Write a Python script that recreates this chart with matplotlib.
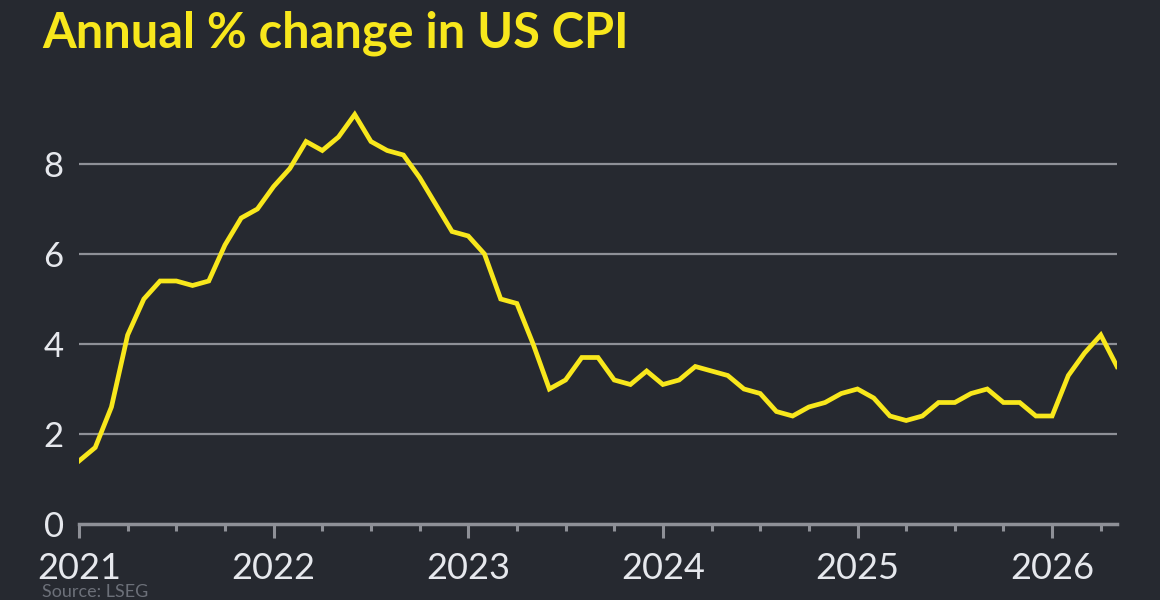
import numpy as np
import matplotlib
matplotlib.use("Agg")
import matplotlib.pyplot as plt

# Annual % change in US CPI, monthly Jan 2021 .. May 2026
cpi_2021 = [1.4, 1.7, 2.6, 4.2, 5.0, 5.4, 5.4, 5.3, 5.4, 6.2, 6.8, 7.0]
cpi_2022 = [7.5, 7.9, 8.5, 8.3, 8.6, 9.1, 8.5, 8.3, 8.2, 7.7, 7.1, 6.5]
cpi_2023 = [6.4, 6.0, 5.0, 4.9, 4.0, 3.0, 3.2, 3.7, 3.7, 3.2, 3.1, 3.4]
cpi_2024 = [3.1, 3.2, 3.5, 3.4, 3.3, 3.0, 2.9, 2.5, 2.4, 2.6, 2.7, 2.9]
cpi_2025 = [3.0, 2.8, 2.4, 2.3, 2.4, 2.7, 2.7, 2.9, 3.0, 2.7, 2.7, 2.4]
cpi_2026 = [2.4, 3.3, 3.8, 4.2, 3.5]

cpi = cpi_2021 + cpi_2022 + cpi_2023 + cpi_2024 + cpi_2025 + cpi_2026
months = np.arange(len(cpi))          # 0 = Jan 2021

year_labels = ["2021", "2022", "2023", "2024", "2025", "2026"]
y_ticks = [0, 2, 4, 6, 8]

BG = "#262930"
YELLOW = "#f8e71c"
GRID = "#8e9097"
TEXT = "#e6e8ed"

plt.rcParams['font.family'] = ['Lato', 'DejaVu Sans']

fig = plt.figure(figsize=(11.6, 6.0), dpi=100, facecolor=BG)
ax = fig.add_axes([79/1160, 1-524/600, (1117-79)/1160, 423/600])
ax.set_facecolor(BG)

ax.plot(months, cpi, color=YELLOW, lw=3.4, solid_joinstyle="miter", zorder=3)

ax.set_xlim(0, len(cpi) - 1)
ax.set_ylim(0, 9.4)

# gridlines (not at zero, the axis line takes that place)
for v in y_ticks[1:]:
    ax.axhline(v, color=GRID, lw=1.6, zorder=1)

ax.set_yticks(y_ticks)
ax.set_yticklabels([str(v) for v in y_ticks])
ax.set_xticks(np.arange(0, len(cpi), 12))
ax.set_xticklabels(year_labels)
ax.set_xticks(np.arange(0, len(cpi), 3), minor=True)

for s in ["top", "right", "left"]:
    ax.spines[s].set_visible(False)
ax.spines["bottom"].set_color(GRID)
ax.spines["bottom"].set_linewidth(2.5)

ax.tick_params(axis="y", length=0, pad=11, labelsize=25, labelcolor=TEXT)
ax.tick_params(axis="x", which="major", length=10, width=2.2, color=GRID,
               pad=10, labelsize=26, labelcolor=TEXT)
ax.tick_params(axis="x", which="minor", length=5, width=2.2, color=GRID)

fig.text(42/1160, 1-48/600, "Annual % change in US CPI", color=YELLOW,
         fontsize=35, fontweight="bold", ha="left", va="baseline")
fig.text(42/1160, 1-597/600, "Source: LSEG", color="#6c7079",
         fontsize=13, ha="left", va="baseline")

fig.savefig("out.png", dpi=100, facecolor=BG)
